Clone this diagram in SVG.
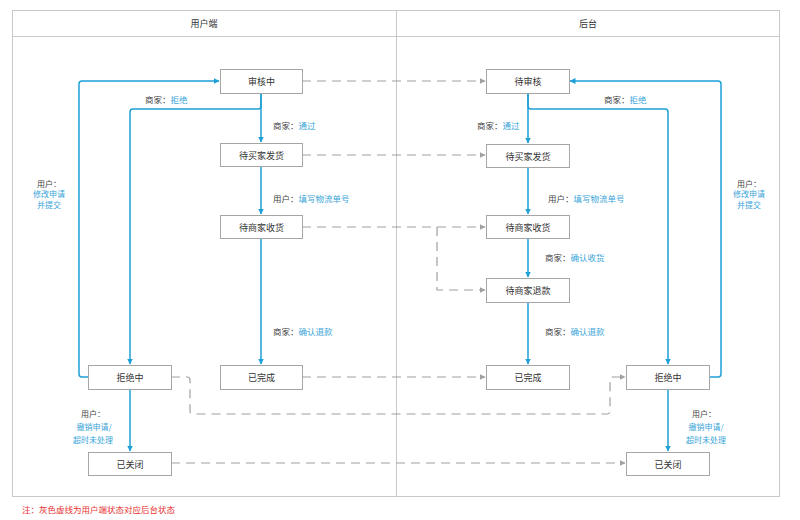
<svg xmlns="http://www.w3.org/2000/svg" width="800" height="520" viewBox="0 0 800 520">
<defs>
<style>
.frame{fill:none;stroke:#c8c8c8;stroke-width:1}
.box{fill:#fff;stroke:#a6a6a6;stroke-width:1}
.t{font-family:"Noto Sans CJK SC","Liberation Sans",sans-serif;font-size:9px;fill:#333;text-anchor:middle;dominant-baseline:central}
.lb{font-family:"Noto Sans CJK SC","Liberation Sans",sans-serif;font-size:8.5px;fill:#444;dominant-baseline:central}
.sm{font-size:8px}
.bl{fill:#3aa5d8}
.blue{fill:none;stroke:#1e9fd6;stroke-width:1.5}
.dash{fill:none;stroke:#a0a0a0;stroke-width:1.2;stroke-dasharray:9 6}
.note{font-family:"Noto Sans CJK SC","Liberation Sans",sans-serif;font-size:8.5px;fill:#e8312f}
</style>
<marker id="ab" viewBox="0 0 6 6" refX="5.5" refY="3" markerWidth="6" markerHeight="6" markerUnits="userSpaceOnUse" orient="auto"><path d="M0,0 L6,3 L0,6 z" fill="#1e9fd6"/></marker>
<marker id="ag" viewBox="0 0 6 6" refX="5.5" refY="3" markerWidth="6" markerHeight="6" markerUnits="userSpaceOnUse" orient="auto"><path d="M0,0 L6,3 L0,6 z" fill="#a0a0a0"/></marker>
</defs>
<rect width="800" height="520" fill="#fff"/>
<g id="frame">
<rect class="frame" x="12.5" y="10.5" width="767" height="486"/>
<line class="frame" x1="12.5" y1="36.5" x2="779.5" y2="36.5"/>
<line class="frame" x1="396.5" y1="10.5" x2="396.5" y2="496.5"/>
<text class="t" x="204" y="23">用户端</text>
<text class="t" x="588" y="23">后台</text>
</g>
<g id="connectors">
<path class="blue" d="M88,377 H82 Q79,377 79,374 V84 Q79,81 82,81 H219" marker-end="url(#ab)"/>
<path class="blue" d="M261,93 V106 Q261,109 258,109 H133 Q130,109 130,112 V364" marker-end="url(#ab)"/>
<path class="blue" d="M261,93 V142" marker-end="url(#ab)"/>
<path class="blue" d="M261,166 V214" marker-end="url(#ab)"/>
<path class="blue" d="M261,238 V364" marker-end="url(#ab)"/>
<path class="blue" d="M130,389 V451" marker-end="url(#ab)"/>
<path class="blue" d="M709,377 H718 Q721,377 721,374 V84 Q721,81 718,81 H570" marker-end="url(#ab)"/>
<path class="blue" d="M528,93 V106 Q528,109 531,109 H665 Q668,109 668,112 V364" marker-end="url(#ab)"/>
<path class="blue" d="M528,93 V143" marker-end="url(#ab)"/>
<path class="blue" d="M528,167 V214" marker-end="url(#ab)"/>
<path class="blue" d="M528,238 V277" marker-end="url(#ab)"/>
<path class="blue" d="M528,302 V364" marker-end="url(#ab)"/>
<path class="blue" d="M668,389 V451" marker-end="url(#ab)"/>
<path class="dash" d="M302,81 H485" marker-end="url(#ag)"/>
<path class="dash" d="M302,155 H485" marker-end="url(#ag)"/>
<path class="dash" d="M302,227 H485" marker-end="url(#ag)"/>
<path class="dash" d="M437,227 V290 H485" marker-end="url(#ag)"/>
<path class="dash" d="M302,377 H485" marker-end="url(#ag)"/>
<path class="dash" d="M171,377 H187 Q190,377 190,380 V411 Q190,414 193,414 H607 Q610,414 610,411 V380 Q610,377 613,377 H625" marker-end="url(#ag)"/>
<path class="dash" d="M171,463 H625" marker-end="url(#ag)"/>
</g>
<g id="labels">
<text class="lb" x="145" y="99">商家：<tspan class="bl">拒绝</tspan></text>
<text class="lb" x="273" y="125">商家：<tspan class="bl">通过</tspan></text>
<text class="lb" x="273" y="198">用户：<tspan class="bl">填写物流单号</tspan></text>
<text class="lb" x="273" y="331">商家：<tspan class="bl">确认退款</tspan></text>
<text class="lb sm" x="49" y="183" text-anchor="middle">用户：</text>
<text class="lb sm bl" x="49" y="193.5" text-anchor="middle">修改申请</text>
<text class="lb sm bl" x="49" y="204" text-anchor="middle">并提交</text>
<text class="lb sm" x="93" y="413.5" text-anchor="middle">用户：</text>
<text class="lb sm bl" x="94" y="426.5" text-anchor="middle">撤销申请/</text>
<text class="lb sm bl" x="93" y="439.5" text-anchor="middle">超时未处理</text>
<text class="lb" x="604" y="99">商家：<tspan class="bl">拒绝</tspan></text>
<text class="lb" x="477" y="125">商家：<tspan class="bl">通过</tspan></text>
<text class="lb" x="548" y="198">用户：<tspan class="bl">填写物流单号</tspan></text>
<text class="lb" x="545" y="257">商家：<tspan class="bl">确认收货</tspan></text>
<text class="lb" x="545" y="331">商家：<tspan class="bl">确认退款</tspan></text>
<text class="lb sm" x="749" y="183" text-anchor="middle">用户：</text>
<text class="lb sm bl" x="749" y="193.5" text-anchor="middle">修改申请</text>
<text class="lb sm bl" x="749" y="204" text-anchor="middle">并提交</text>
<text class="lb sm" x="704" y="413.5" text-anchor="middle">用户：</text>
<text class="lb sm bl" x="706" y="426.5" text-anchor="middle">撤销申请/</text>
<text class="lb sm bl" x="706" y="439.5" text-anchor="middle">超时未处理</text>
</g>
<g id="n-shenhezhong"><rect class="box" x="220.5" y="69.5" width="82" height="24"/><text class="t" x="261.5" y="81.5">审核中</text></g>
<g id="n-daimaijiafahuo-u"><rect class="box" x="220.5" y="143.5" width="82" height="23"/><text class="t" x="261.5" y="155">待买家发货</text></g>
<g id="n-daishangjiashouhuo-u"><rect class="box" x="220.5" y="215.5" width="82" height="23"/><text class="t" x="261.5" y="227">待商家收货</text></g>
<g id="n-jujuezhong-u"><rect class="box" x="88.5" y="365.5" width="83" height="24"/><text class="t" x="130" y="377.5">拒绝中</text></g>
<g id="n-yiwancheng-u"><rect class="box" x="220.5" y="365.5" width="82" height="24"/><text class="t" x="261.5" y="377.5">已完成</text></g>
<g id="n-yiguanbi-u"><rect class="box" x="88.5" y="452.5" width="83" height="23"/><text class="t" x="130" y="464">已关闭</text></g>
<g id="n-daishenhe"><rect class="box" x="486.5" y="69.5" width="83" height="24"/><text class="t" x="528" y="81.5">待审核</text></g>
<g id="n-daimaijiafahuo-b"><rect class="box" x="486.5" y="144.5" width="83" height="23"/><text class="t" x="528" y="156">待买家发货</text></g>
<g id="n-daishangjiashouhuo-b"><rect class="box" x="486.5" y="215.5" width="83" height="23"/><text class="t" x="528" y="227">待商家收货</text></g>
<g id="n-daishangjiatuikuan"><rect class="box" x="486.5" y="278.5" width="83" height="24"/><text class="t" x="528" y="290.5">待商家退款</text></g>
<g id="n-yiwancheng-b"><rect class="box" x="486.5" y="365.5" width="83" height="24"/><text class="t" x="528" y="377.5">已完成</text></g>
<g id="n-jujuezhong-b"><rect class="box" x="626.5" y="365.5" width="83" height="24"/><text class="t" x="668" y="377.5">拒绝中</text></g>
<g id="n-yiguanbi-b"><rect class="box" x="626.5" y="452.5" width="83" height="23"/><text class="t" x="668" y="464">已关闭</text></g>
<text class="note" x="22" y="513">注：灰色虚线为用户端状态对应后台状态</text>
</svg>
